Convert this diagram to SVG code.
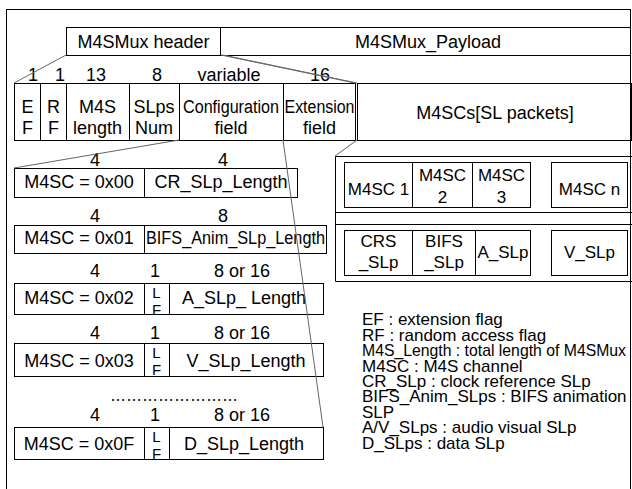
<svg xmlns="http://www.w3.org/2000/svg" width="632" height="489" viewBox="0 0 632 489">
<style>
.b{fill:none;stroke:#000;stroke-width:1}
.t{font-family:"Liberation Sans",Arial,sans-serif;font-size:18px;fill:#000;text-anchor:middle}
.s{font-size:17px}
.lf{font-size:15px}
.lg{font-family:"Liberation Sans",Arial,sans-serif;font-size:17px;fill:#000}
.c{stroke:#666;stroke-width:1;fill:none}
</style>
<defs>
<clipPath id="c3"><rect x="144" y="283" width="25" height="31"/></clipPath>
<clipPath id="c4"><rect x="144" y="343" width="25" height="33"/></clipPath>
<clipPath id="c5"><rect x="144" y="427" width="25" height="32"/></clipPath>
</defs>
<rect fill="#fff" width="632" height="489"/>
<g id="frame"><rect class="b" x="6.5" y="9.5" width="624" height="490"/></g>

<g id="header">
<rect class="b" x="66.5" y="27.5" width="154" height="28"/>
<text class="t" x="143.5" y="48">M4SMux header</text>
</g>
<g id="payload">
<rect class="b" x="220.5" y="27.5" width="410" height="28"/>
<text class="t" x="428" y="48">M4SMux_Payload</text>
</g>

<g id="bits" class="t">
<text x="33" y="81">1</text>
<text x="60" y="81">1</text>
<text x="96" y="81">13</text>
<text x="157" y="81">8</text>
<text x="229" y="81">variable</text>
<text x="320" y="81">16</text>
</g>

<g id="fields">
<rect class="b" x="14.5" y="83.5" width="26" height="57"/>
<text class="t" x="27.5" y="113">E</text><text class="t" x="27.5" y="134">F</text>
<rect class="b" x="40.5" y="83.5" width="26" height="57"/>
<text class="t" x="53.5" y="113">R</text><text class="t" x="53.5" y="134">F</text>
<rect class="b" x="66.5" y="83.5" width="63" height="57"/>
<text class="t" x="97.5" y="113">M4S</text><text class="t" x="97.5" y="134">length</text>
<rect class="b" x="129.5" y="83.5" width="50" height="57"/>
<text class="t" x="154" y="113">SLps</text><text class="t" x="154" y="134">Num</text>
<rect class="b" x="179.5" y="83.5" width="104" height="57"/>
<text class="t" x="231" y="113" textLength="96" lengthAdjust="spacingAndGlyphs">Configuration</text><text class="t" x="231" y="134">field</text>
<rect class="b" x="283.5" y="83.5" width="72" height="57"/>
<text class="t" x="319.5" y="113" textLength="70" lengthAdjust="spacingAndGlyphs">Extension</text><text class="t" x="319.5" y="134">field</text>
<rect class="b" x="357.5" y="83.5" width="274" height="57"/>
<text class="t" x="495" y="119">M4SCs[SL packets]</text>
</g>

<g id="sl-packets">
<path class="b" d="M335.5 156.5H632M335.5 212.5H632M335.5 224.5H632M335.5 281.5H632M335.5 156.5V281.5"/>
<rect class="b" x="344.5" y="162.5" width="68" height="45"/>
<text class="t s" x="378.5" y="195">M4SC 1</text>
<rect class="b" x="412.5" y="162.5" width="60" height="45"/>
<text class="t s" x="442.5" y="181">M4SC</text><text class="t s" x="442.5" y="203">2</text>
<rect class="b" x="472.5" y="162.5" width="58" height="45"/>
<text class="t s" x="501.5" y="181">M4SC</text><text class="t s" x="501.5" y="203">3</text>
<rect class="b" x="551.5" y="162.5" width="76" height="45"/>
<text class="t s" x="589.5" y="195">M4SC n</text>
<rect class="b" x="344.5" y="230.5" width="68" height="45"/>
<text class="t s" x="378.5" y="247">CRS</text><text class="t s" x="378.5" y="268">_SLp</text>
<rect class="b" x="412.5" y="230.5" width="63" height="45"/>
<text class="t s" x="444" y="247">BIFS</text><text class="t s" x="444" y="268">_SLp</text>
<rect class="b" x="475.5" y="230.5" width="55" height="45"/>
<text class="t s" x="503" y="258">A_SLp</text>
<rect class="b" x="551.5" y="230.5" width="76" height="45"/>
<text class="t s" x="589.5" y="258">V_SLp</text>
</g>

<g id="m4sc-00">
<text class="t" x="95" y="166">4</text><text class="t" x="223" y="166">4</text>
<rect class="b" x="14.5" y="168.5" width="283" height="29"/>
<line class="b" x1="144.5" y1="168.5" x2="144.5" y2="197.5"/>
<text class="t" x="79" y="188">M4SC = 0x00</text>
<text class="t" x="221" y="188">CR_SLp_Length</text>
</g>

<g id="m4sc-01">
<text class="t" x="95" y="222">4</text><text class="t" x="223" y="222">8</text>
<rect class="b" x="14.5" y="225.5" width="312" height="28"/>
<line class="b" x1="144.5" y1="225.5" x2="144.5" y2="253.5"/>
<text class="t" x="79" y="244">M4SC = 0x01</text>
<text class="t" x="235.5" y="244" textLength="179" lengthAdjust="spacingAndGlyphs">BIFS_Anim_SLp_Length</text>
</g>

<g id="m4sc-02">
<text class="t" x="95" y="277">4</text><text class="t" x="155" y="277">1</text><text class="t" x="242" y="277">8 or 16</text>
<rect class="b" x="14.5" y="283.5" width="309" height="31"/>
<path class="b" d="M144.5 283.5V314.5M169.5 283.5V314.5"/>
<g clip-path="url(#c3)"><text class="t lf" x="156.5" y="298">L</text><text class="t lf" x="156.5" y="315">F</text></g>
<text class="t" x="79" y="304">M4SC = 0x02</text>
<text class="t" x="244" y="304">A_SLp_ Length</text>
</g>

<g id="m4sc-03">
<text class="t" x="95" y="339">4</text><text class="t" x="155" y="339">1</text><text class="t" x="242" y="339">8 or 16</text>
<rect class="b" x="14.5" y="343.5" width="309" height="33"/>
<path class="b" d="M144.5 343.5V376.5M169.5 343.5V376.5"/>
<g clip-path="url(#c4)"><text class="t lf" x="156.5" y="358">L</text><text class="t lf" x="156.5" y="375">F</text></g>
<text class="t" x="79" y="367">M4SC = 0x03</text>
<text class="t" x="246" y="367">V_SLp_Length</text>
</g>

<text class="t" x="174" y="401" textLength="128" lengthAdjust="spacingAndGlyphs">……………………</text>

<g id="m4sc-0f">
<text class="t" x="95" y="421">4</text><text class="t" x="155" y="421">1</text><text class="t" x="242" y="421">8 or 16</text>
<rect class="b" x="14.5" y="427.5" width="309" height="32"/>
<path class="b" d="M144.5 427.5V459.5M169.5 427.5V459.5"/>
<g clip-path="url(#c5)"><text class="t lf" x="156.5" y="442">L</text><text class="t lf" x="156.5" y="459">F</text></g>
<text class="t" x="79" y="450">M4SC = 0x0F</text>
<text class="t" x="244" y="450">D_SLp_Length</text>
</g>

<g id="legend" class="lg">
<text x="362" y="325">EF : extension flag</text>
<text x="362" y="340.5">RF : random access flag</text>
<text x="362" y="356" textLength="264" lengthAdjust="spacingAndGlyphs">M4S_Length : total length of M4SMux</text>
<text x="362" y="371.5">M4SC : M4S channel</text>
<text x="362" y="387">CR_SLp : clock reference SLp</text>
<text x="362" y="402">BIFS_Anim_SLps : BIFS animation</text>
<text x="362" y="417.5">SLP</text>
<text x="362" y="433">A/V_SLps : audio visual SLp</text>
<text x="362" y="448.5">D_SLps : data SLp</text>
</g>

<g id="connectors">
<line class="c" x1="66" y1="55" x2="14" y2="83"/>
<line class="c" x1="221" y1="55" x2="355" y2="83"/>
<line class="c" x1="223" y1="55" x2="357" y2="83"/>
<line class="c" x1="179" y1="140" x2="14" y2="168"/>
<line class="c" x1="283" y1="140" x2="323" y2="427"/>
<line class="c" x1="357" y1="140" x2="335" y2="156"/>
</g>
</svg>
